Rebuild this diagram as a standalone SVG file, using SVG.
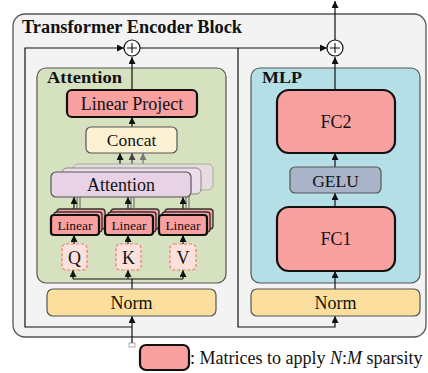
<svg xmlns="http://www.w3.org/2000/svg" width="428" height="373" viewBox="0 0 428 373" font-family="'Liberation Serif', 'DejaVu Serif', serif">
  <style>
    text { font-family: 'Liberation Serif', 'DejaVu Serif', serif; fill: #111; }
    .title { font-weight: bold; }
    .lbl { text-anchor: middle; }
    .con { fill: none; stroke: #111; stroke-width: 1.2; }
    .box { stroke: #555; stroke-width: 1.2; }
    .mat { fill: #f9a0a0; stroke: #111; stroke-width: 2.2; }
    .matback { fill: #f9a0a0; stroke: #333; stroke-width: 1.4; }
    .norm { fill: #fbdf9e; stroke: #555; stroke-width: 1.2; }
    .qkv { fill: #fbe1dd; stroke: #f07a6a; stroke-width: 1.2; stroke-dasharray: 3 2; }
  </style>
  <defs>
    <marker id="ah" viewBox="0 0 8 8" refX="8" refY="4" markerWidth="7" markerHeight="7" markerUnits="userSpaceOnUse" orient="auto">
      <path d="M0,0 L8,4 L0,8 z" fill="#111"/>
    </marker>
    <marker id="ah2" viewBox="0 0 8 8" refX="8" refY="4" markerWidth="7" markerHeight="7" markerUnits="userSpaceOnUse" orient="auto">
      <path d="M0,0 L8,4 L0,8 z" fill="#444"/>
    </marker>
    <marker id="ah3" viewBox="0 0 8 8" refX="8" refY="4" markerWidth="7" markerHeight="7" markerUnits="userSpaceOnUse" orient="auto">
      <path d="M0,0 L8,4 L0,8 z" fill="#777"/>
    </marker>
  </defs>

  <!-- outer encoder block -->
  <g id="encoder-block">
    <rect x="13" y="14" width="413" height="323" rx="12" fill="#f3f3f3" stroke="#555" stroke-width="1.3"/>
    <text class="title" x="22" y="33" font-size="18" textLength="220" lengthAdjust="spacingAndGlyphs">Transformer Encoder Block</text>
  </g>

  <!-- attention sub-block -->
  <g id="attention-block">
    <rect class="box" x="37" y="68" width="189" height="215" rx="9" fill="#d6e1bf"/>
    <text class="title" x="47" y="83" font-size="17" textLength="75" lengthAdjust="spacingAndGlyphs">Attention</text>
  </g>

  <!-- mlp sub-block -->
  <g id="mlp-block">
    <rect class="box" x="251" y="68" width="169" height="215" rx="9" fill="#b5dfe6"/>
    <text class="title" x="262" y="83" font-size="17" textLength="40" lengthAdjust="spacingAndGlyphs">MLP</text>
  </g>

  <!-- connectors -->
  <g id="connectors">
    <!-- input and residual paths -->
    <rect x="129" y="343" width="6" height="4" fill="#fff" stroke="#999" stroke-width="0.8"/>
    <path class="con" d="M132,343 V316" marker-end="url(#ah)"/>
    <path class="con" d="M132,327 H25 V48 H124" marker-end="url(#ah)"/>
    <path class="con" d="M140,48 H327" marker-end="url(#ah)"/>
    <path class="con" d="M238,48 V327 H335 V316" marker-end="url(#ah)"/>
    <path class="con" d="M335,40 V1" marker-end="url(#ah)"/>

    <!-- attention branch -->
    <path class="con" d="M132,289 V279"/>
    <path class="con" d="M73,279 H183"/>
    <path class="con" d="M73,279 V270" marker-end="url(#ah)"/>
    <path class="con" d="M128,279 V270" marker-end="url(#ah)"/>
    <path class="con" d="M183,279 V270" marker-end="url(#ah)"/>
    <path class="con" d="M74,244 V235" marker-end="url(#ah)"/>
    <path class="con" d="M128,244 V235" marker-end="url(#ah)"/>
    <path class="con" d="M183,244 V235" marker-end="url(#ah)"/>
    <path fill="none" stroke="#555" stroke-width="0.9" d="M77,211 V193 M80,208 V190 M131,211 V193 M134,208 V190 M186,211 V193 M189,208 V190"/>
    <path class="con" d="M74,214 V197" marker-end="url(#ah)"/>
    <path class="con" d="M128,214 V197" marker-end="url(#ah)"/>
    <path class="con" d="M183,214 V197" marker-end="url(#ah)"/>
    <path class="con" d="M120,172 V153" marker-end="url(#ah)"/>
    <path fill="none" stroke="#444" stroke-width="1.2" d="M132,168 V153" marker-end="url(#ah2)"/>
    <path fill="none" stroke="#777" stroke-width="1.2" d="M143,165 V153" marker-end="url(#ah3)"/>
    <path class="con" d="M132,127 V117" marker-end="url(#ah)"/>
    <path class="con" d="M132,90 V57" marker-end="url(#ah)"/>

    <!-- mlp branch -->
    <path class="con" d="M335,289 V271" marker-end="url(#ah)"/>
    <path class="con" d="M335,207 V193" marker-end="url(#ah)"/>
    <path class="con" d="M335,167 V153" marker-end="url(#ah)"/>
    <path class="con" d="M335,90 V57" marker-end="url(#ah)"/>
  </g>

  <!-- residual adders -->
  <g id="add-attn">
    <circle cx="132" cy="48" r="8" fill="#fff" stroke="#111" stroke-width="1.2"/>
    <path d="M127,48 H137 M132,43 V53" stroke="#111" stroke-width="1.1"/>
  </g>
  <g id="add-mlp">
    <circle cx="335" cy="48" r="8" fill="#fff" stroke="#111" stroke-width="1.2"/>
    <path d="M330,48 H340 M335,43 V53" stroke="#111" stroke-width="1.1"/>
  </g>

  <g id="linear-project">
    <rect class="mat" x="67" y="90" width="130" height="27" rx="5"/>
    <text class="lbl" x="132" y="110" font-size="18">Linear Project</text>
  </g>

  <g id="concat">
    <rect class="box" x="86" y="127" width="91" height="26" rx="5" fill="#fdf1d4"/>
    <text class="lbl" x="131.5" y="146" font-size="17.5">Concat</text>
  </g>

  <g id="attention-heads">
    <rect x="73" y="164" width="140" height="26" rx="5" fill="#e6dcdc" stroke="#aaa" stroke-width="1"/>
    <rect x="62" y="168" width="139" height="26" rx="5" fill="#ecdeea" stroke="#888" stroke-width="1"/>
    <rect class="box" x="51" y="172" width="140" height="25" rx="5" fill="#e8d2e6"/>
    <text class="lbl" x="121" y="191" font-size="18">Attention</text>
  </g>

  <g id="linear-q">
    <rect class="matback" x="57" y="209" width="48" height="20" rx="3"/>
    <rect class="matback" x="54" y="212" width="48" height="20" rx="3"/>
    <rect class="mat" x="51" y="215" width="48" height="20" rx="3"/>
    <text class="lbl" x="75" y="230" font-size="13.5">Linear</text>
  </g>
  <g id="linear-k">
    <rect class="matback" x="111" y="209" width="48" height="20" rx="3"/>
    <rect class="matback" x="108" y="212" width="48" height="20" rx="3"/>
    <rect class="mat" x="105" y="215" width="48" height="20" rx="3"/>
    <text class="lbl" x="129" y="230" font-size="13.5">Linear</text>
  </g>
  <g id="linear-v">
    <rect class="matback" x="165" y="209" width="48" height="20" rx="3"/>
    <rect class="matback" x="162" y="212" width="48" height="20" rx="3"/>
    <rect class="mat" x="159" y="215" width="48" height="20" rx="3"/>
    <text class="lbl" x="183" y="230" font-size="13.5">Linear</text>
  </g>

  <g id="q">
    <rect class="qkv" x="62" y="244" width="25" height="26" rx="4"/>
    <text class="lbl" x="74.5" y="263.5" font-size="18">Q</text>
  </g>
  <g id="k">
    <rect class="qkv" x="116" y="244" width="25" height="26" rx="4"/>
    <text class="lbl" x="128.5" y="263.5" font-size="18">K</text>
  </g>
  <g id="v">
    <rect class="qkv" x="170" y="244" width="26" height="26" rx="4"/>
    <text class="lbl" x="183" y="263.5" font-size="18">V</text>
  </g>

  <g id="norm-attn">
    <rect class="norm" x="47" y="289" width="169" height="27" rx="6"/>
    <text class="lbl" x="131.5" y="308.5" font-size="18">Norm</text>
  </g>

  <g id="fc2">
    <rect class="mat" x="277" y="90" width="118" height="63" rx="12"/>
    <text class="lbl" x="336" y="128" font-size="18">FC2</text>
  </g>
  <g id="gelu">
    <rect class="box" x="290" y="167" width="91" height="26" rx="5" fill="#aab4c8"/>
    <text class="lbl" x="335.5" y="186.5" font-size="17.5">GELU</text>
  </g>
  <g id="fc1">
    <rect class="mat" x="277" y="207" width="118" height="64" rx="12"/>
    <text class="lbl" x="336" y="245" font-size="18">FC1</text>
  </g>

  <g id="norm-mlp">
    <rect class="norm" x="251" y="289" width="169" height="27" rx="6"/>
    <text class="lbl" x="335.5" y="308.5" font-size="18">Norm</text>
  </g>

  <g id="legend">
    <rect class="mat" x="140" y="345" width="49" height="25" rx="6"/>
    <text x="190" y="364" font-size="18">: Matrices to apply <tspan font-style="italic">N</tspan>:<tspan font-style="italic">M</tspan> sparsity</text>
  </g>
</svg>
